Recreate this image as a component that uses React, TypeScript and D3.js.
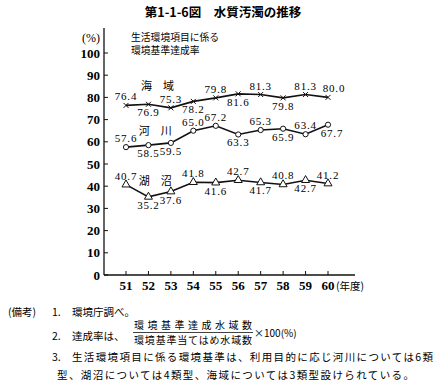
import { useEffect, useRef } from 'react';
import * as d3 from 'd3';

const years = [51, 52, 53, 54, 55, 56, 57, 58, 59, 60];
const seaValues = [76.4, 76.9, 75.3, 78.2, 79.8, 81.6, 81.3, 79.8, 81.3, 80.0];
const riverValues = [57.6, 58.5, 59.5, 65.0, 67.2, 63.3, 65.3, 65.9, 63.4, 67.7];
const lakeValues = [40.7, 35.2, 37.6, 41.8, 41.6, 42.7, 41.7, 40.8, 42.7, 41.2];
// label above (1) or below (-1) the point
const seaSides = [1, -1, 1, -1, 1, -1, 1, -1, 1, 1];
const riverSides = [1, -1, -1, 1, 1, -1, 1, -1, 1, -1];
const lakeSides = [1, -1, -1, 1, -1, 1, -1, 1, -1, 1];
const yTicks = [0, 10, 20, 30, 40, 50, 60, 70, 80, 90, 100];

const JP = "'Noto Sans CJK JP', sans-serif";
const NUM = "'Liberation Serif', 'DejaVu Serif', serif";

const App = () => {
  const svgRef = useRef(null);

  useEffect(() => {
    const svg = d3.select(svgRef.current);
    svg.selectAll("*").remove();

    const x = d3.scaleLinear().domain([51, 60]).range([126, 328]);
    const y = d3.scaleLinear().domain([0, 100]).range([275, 53]);
    const axisX = 104;

    // title
    svg.append("text")
      .attr("x", 223).attr("y", 17)
      .attr("text-anchor", "middle")
      .attr("font-family", JP).attr("font-weight", "bold").attr("font-size", 12.5)
      .text("第1-1-6図　水質汚濁の推移");

    svg.append("text")
      .attr("x", 100).attr("y", 42)
      .attr("text-anchor", "end")
      .attr("font-family", NUM).attr("font-size", 12)
      .text("(%)");

    const legend = ["生活環境項目に係る", "環境基準達成率"];
    legend.forEach((t, i) => {
      svg.append("text")
        .attr("x", 131).attr("y", 41 + i * 13)
        .attr("font-family", JP).attr("font-size", 9.8)
        .text(t);
    });

    // axes
    svg.append("line")
      .attr("x1", axisX).attr("x2", axisX)
      .attr("y1", 28).attr("y2", y(0))
      .attr("stroke", "#111").attr("stroke-width", 1.3);
    svg.append("line")
      .attr("x1", axisX).attr("x2", 355)
      .attr("y1", y(0)).attr("y2", y(0))
      .attr("stroke", "#111").attr("stroke-width", 1.3);

    yTicks.forEach(t => {
      svg.append("line")
        .attr("x1", axisX).attr("x2", axisX + 4)
        .attr("y1", y(t)).attr("y2", y(t))
        .attr("stroke", "#111").attr("stroke-width", 1);
      svg.append("text")
        .attr("x", 100).attr("y", y(t) + 4.5)
        .attr("text-anchor", "end")
        .attr("font-family", NUM).attr("font-size", 13).attr("font-weight", "bold")
        .text(t);
    });

    years.forEach(yr => {
      svg.append("line")
        .attr("x1", x(yr)).attr("x2", x(yr))
        .attr("y1", y(0)).attr("y2", y(0) - 4)
        .attr("stroke", "#111").attr("stroke-width", 1);
      svg.append("text")
        .attr("x", x(yr)).attr("y", 290)
        .attr("text-anchor", "middle")
        .attr("font-family", NUM).attr("font-size", 13).attr("font-weight", "bold")
        .text(yr);
    });
    svg.append("text")
      .attr("x", 336).attr("y", 290)
      .attr("font-family", JP).attr("font-size", 10.5)
      .text("(年度)");

    const line = d3.line()
      .x((_, i) => x(years[i]))
      .y(d => y(d));

    const series = [
      { values: seaValues, sides: seaSides, marker: "cross", name: "海　域", nx: 52.4, ny: 85.5 },
      { values: riverValues, sides: riverSides, marker: "circle", name: "河　川", nx: 52.3, ny: 65.2 },
      { values: lakeValues, sides: lakeSides, marker: "triangle", name: "湖　沼", nx: 52.3, ny: 43 },
    ];

    series.forEach(s => {
      svg.append("path")
        .datum(s.values)
        .attr("fill", "none")
        .attr("stroke", "#111")
        .attr("stroke-width", 1.6)
        .attr("d", line);

      s.values.forEach((v, i) => {
        const cx = x(years[i]);
        const cy = y(v);
        if (s.marker === "cross") {
          svg.append("path")
            .attr("d", `M${cx - 2.5},${cy - 2.5}L${cx + 2.5},${cy + 2.5}M${cx - 2.5},${cy + 2.5}L${cx + 2.5},${cy - 2.5}`)
            .attr("stroke", "#111").attr("stroke-width", 1);
        } else if (s.marker === "circle") {
          svg.append("circle")
            .attr("cx", cx).attr("cy", cy).attr("r", 2.6)
            .attr("fill", "#fff").attr("stroke", "#111").attr("stroke-width", 1);
        } else {
          svg.append("path")
            .attr("d", d3.symbol(d3.symbolTriangle, 28)())
            .attr("transform", `translate(${cx},${cy})`)
            .attr("fill", "#fff").attr("stroke", "#111").attr("stroke-width", 1);
        }
        const last = i === s.values.length - 1;
        const dx = last && s.marker === "cross" ? 6 : last && s.marker === "circle" ? 4 : 0;
        svg.append("text")
          .attr("x", cx + dx)
          .attr("y", s.sides[i] > 0 ? cy - 5 : cy + 12)
          .attr("text-anchor", "middle")
          .attr("font-family", NUM).attr("font-size", 11)
          .attr("letter-spacing", 0.8)
          .text(v.toFixed(1));
      });

      svg.append("text")
        .attr("x", x(s.nx)).attr("y", y(s.ny) + 5)
        .attr("text-anchor", "middle")
        .attr("font-family", JP).attr("font-size", 11)
        .text(s.name);
    });

    // notes
    const note = (tx, ty, t, size = 10.5, len = null) => {
      const el = svg.append("text")
        .attr("x", tx).attr("y", ty)
        .attr("font-family", JP).attr("font-size", size)
        .text(t);
      if (len) el.attr("textLength", len).attr("lengthAdjust", "spacing");
      return el;
    };
    note(8, 316, "(備考)");
    note(52, 316, "1.");
    note(72, 316, "環境庁調べ。");
    note(52, 340, "2.");
    note(72, 340, "達成率は、");
    note(134, 329, "環境基準達成水域数", 10, 118);
    svg.append("line")
      .attr("x1", 133).attr("x2", 253)
      .attr("y1", 332.5).attr("y2", 332.5)
      .attr("stroke", "#111").attr("stroke-width", 0.8);
    note(134, 344, "環境基準当てはめ水域数", 10, 118);
    note(254, 337, "×100(%)", 10);
    note(52, 361, "3.");
    note(72, 361, "生活環境項目に係る環境基準は、利用目的に応じ河川については6類", 10.5, 361);
    note(57, 379, "型、湖沼については4類型、海域については3類型設けられている。", 10.5, 357);
  }, []);

  return (
    <svg ref={svgRef} width={438} height={390}
      style={{ position: 'absolute', left: 0, top: 0, background: '#fff' }} />
  );
};

export default App;
